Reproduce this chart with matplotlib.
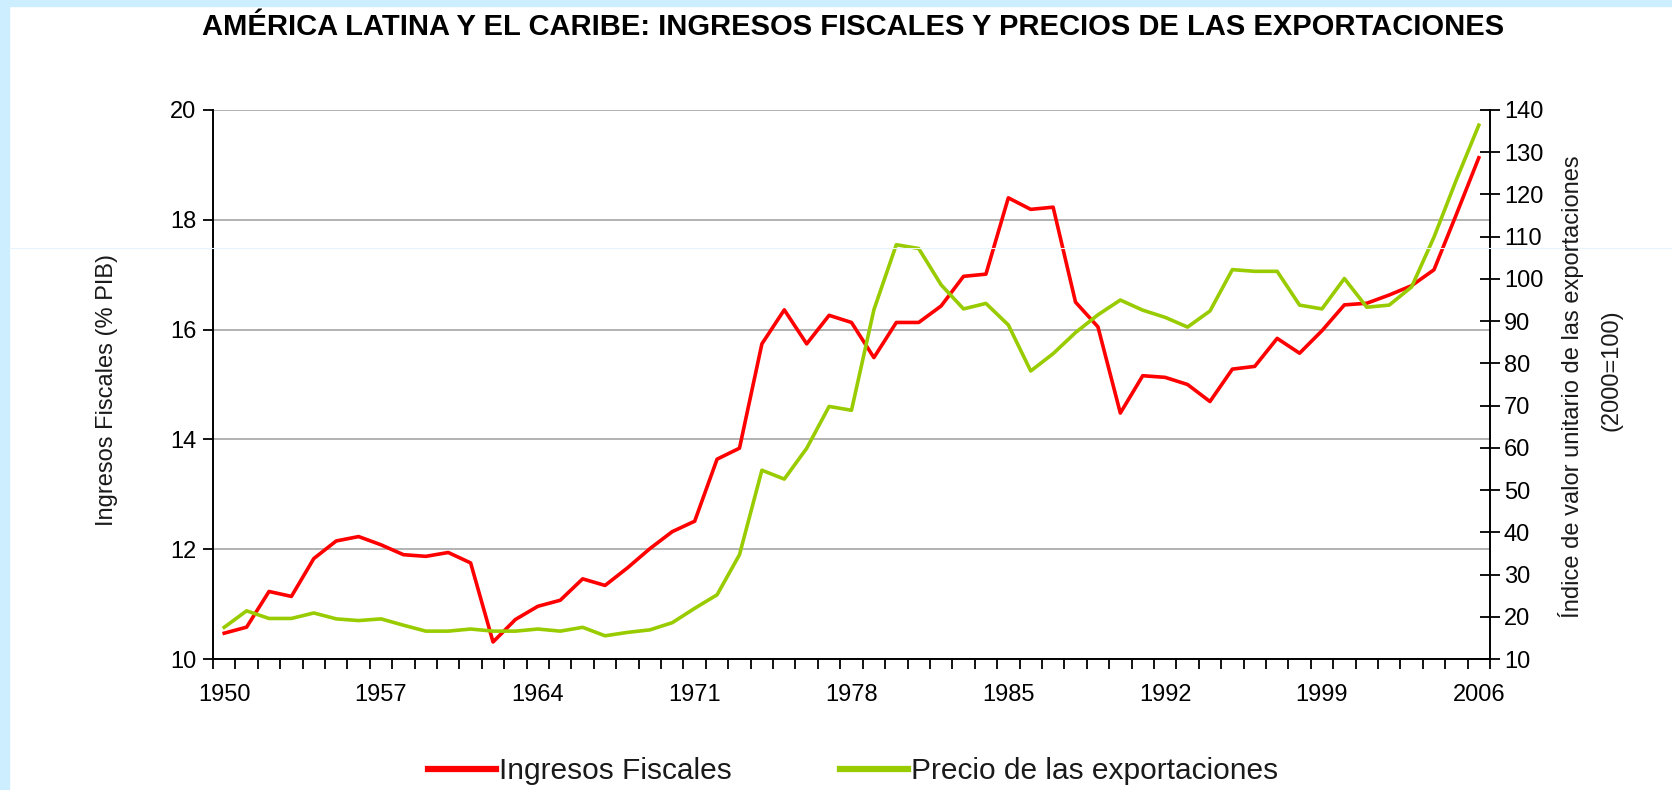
import numpy as np
import matplotlib
matplotlib.use('Agg')
import matplotlib.pyplot as plt
from matplotlib.patches import Rectangle
from matplotlib.lines import Line2D

# data (1950-2006)
years = list(range(1950, 2007))
ingresos = [10.47, 10.58, 11.23, 11.14, 11.83, 12.15, 12.23, 12.08, 11.90, 11.87,
            11.94, 11.75, 10.31, 10.72, 10.96, 11.07, 11.46, 11.34, 11.66, 12.01,
            12.32, 12.51, 13.64, 13.84, 15.74, 16.36, 15.74, 16.26, 16.13, 15.49,
            16.13, 16.13, 16.43, 16.97, 17.01, 18.40, 18.19, 18.23, 16.50, 16.05,
            14.48, 15.16, 15.13, 15.00, 14.69, 15.28, 15.33, 15.84, 15.57, 15.98,
            16.45, 16.48, 16.63, 16.80, 17.09, 18.10, 19.13]
precios = [17.5, 21.4, 19.6, 19.6, 20.9, 19.5, 19.1, 19.5, 18.0, 16.6,
           16.6, 17.1, 16.6, 16.6, 17.1, 16.6, 17.5, 15.5, 16.3, 16.9,
           18.6, 22.0, 25.2, 34.7, 54.7, 52.6, 59.9, 69.8, 68.9, 92.7,
           108.1, 107.2, 98.6, 92.9, 94.2, 89.1, 78.2, 82.3, 87.3, 91.5,
           95.0, 92.6, 90.9, 88.6, 92.4, 102.2, 101.8, 101.8, 93.8, 92.9,
           100.1, 93.3, 93.8, 98.1, 109.9, 123.5, 136.4]
year_labels = [1950, 1957, 1964, 1971, 1978, 1985, 1992, 1999, 2006]
left_ticks = [10, 12, 14, 16, 18, 20]
right_ticks = [10, 20, 30, 40, 50, 60, 70, 80, 90, 100, 110, 120, 130, 140]

title = 'AMÉRICA LATINA Y EL CARIBE: INGRESOS FISCALES Y PRECIOS DE LAS EXPORTACIONES'
red = '#ff0000'
green = '#99cc00'

plt.rcParams['font.family'] = ['Liberation Sans', 'DejaVu Sans']
plt.rcParams['text.color'] = '#1a1a1a'

W, H = 1672, 790
fig = plt.figure(figsize=(W / 100, H / 100), dpi=100)

# axes box in pixel terms of the reference
ax = fig.add_axes([213 / W, 1 - 659 / H, (1490 - 213) / W, (659 - 110) / H])
ax2 = ax.twinx()

l1, = ax.plot(years, ingresos, color=red, lw=2.6, label='Ingresos Fiscales')
l2, = ax2.plot(years, precios, color=green, lw=2.6, label='Precio de las exportaciones')

ax.set_xlim(1949.5, 2006.5)
ax.set_ylim(10, 20)
ax2.set_ylim(10, 140)
ax.set_yticks(left_ticks)
ax2.set_yticks(right_ticks)
ax.set_xticks(year_labels)
ax.set_xticks(np.arange(1949.5, 2007, 1), minor=True)

ax.tick_params(axis='x', which='major', length=0, pad=18, labelsize=17)
ax.tick_params(axis='x', which='minor', length=7, width=1.3, direction='out')
ax.tick_params(axis='y', length=7, width=1.3, direction='out', labelsize=17, pad=5)
ax2.tick_params(axis='y', length=14, width=1.3, direction='inout', labelsize=17, pad=3)

ax.grid(axis='y', color='#a6a6a6', lw=1.2)
ax.set_axisbelow(True)

for s in ['top', 'right']:
    ax.spines[s].set_visible(False)
for s in ['top', 'left', 'bottom']:
    ax2.spines[s].set_visible(False)
for sp in [ax.spines['left'], ax.spines['bottom'], ax2.spines['right']]:
    sp.set_linewidth(1.4)
    sp.set_color('black')

# labels and title
fig.text(107 / W, 1 - 390 / H, 'Ingresos Fiscales (% PIB)', rotation=90,
         ha='center', va='center', fontsize=17)
fig.text(1571 / W, 1 - 387 / H, 'Índice de valor unitario de las exportaciones',
         rotation=90, ha='center', va='center', fontsize=17)
fig.text(1612 / W, 1 - 370 / H, '(2000=100)', rotation=90,
         ha='center', va='center', fontsize=17)
fig.text(853 / W, 1 - 27 / H, title, ha='center', va='center',
         fontsize=21, fontweight='bold', color='black')

h1 = Line2D([], [], color=red, lw=4.5)
h2 = Line2D([], [], color=green, lw=4.5)
fig.legend([h1, h2], [l1.get_label(), l2.get_label()], loc='center',
           bbox_to_anchor=(853 / W, 1 - 771 / H), ncol=2, frameon=False,
           fontsize=21.5, handlelength=2.3, handletextpad=0.1, columnspacing=3.6)

# light blue frame of the screenshot
fig.patches.append(Rectangle((0, 0), 9 / W, 1, transform=fig.transFigure,
                             color='#cceeff', zorder=0))
fig.patches.append(Rectangle((0, 1 - 6 / H), 1, 6 / H, transform=fig.transFigure,
                             color='#cceeff', zorder=0))
fig.add_artist(Line2D([9 / W, 1], [1 - 248 / H] * 2, transform=fig.transFigure,
                      color='#e8f4fc', lw=0.8))

fig.savefig('out.png', dpi=100)
